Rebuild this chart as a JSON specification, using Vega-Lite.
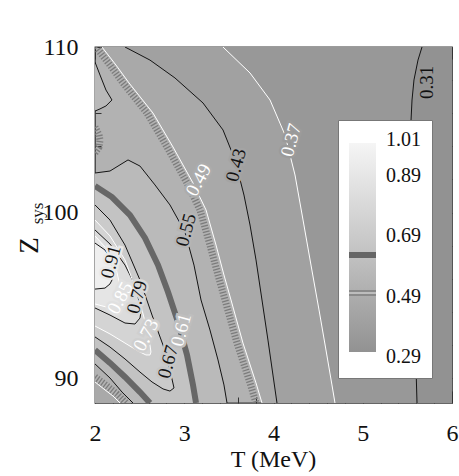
{
  "$schema": "https://vega.github.io/schema/vega-lite/v6.json",
  "width": 357,
  "height": 356,
  "autosize": "none",
  "padding": {"left": 95, "top": 47, "right": 7, "bottom": 73},
  "background": "white",
  "config": {"view": {"stroke": "#3a3a3a", "strokeWidth": 1.3, "fill": "#b2b2b2"}, "font": "Liberation Serif", "legend": {"gradientVerticalMaxLength": 400, "gradientVerticalMinLength": 10}},
  "datasets": {
    "mono": [
      {"k":"r31","c":"0.31","v":0.30,"i":0,"T":5.664,"Z":110},
      {"k":"r31","c":"0.31","v":0.30,"i":1,"T":5.619,"Z":109.21},
      {"k":"r31","c":"0.31","v":0.30,"i":2,"T":5.574,"Z":108.01},
      {"k":"r31","c":"0.31","v":0.30,"i":3,"T":5.552,"Z":106.80},
      {"k":"r31","c":"0.31","v":0.30,"i":4,"T":5.541,"Z":105.59},
      {"k":"r31","c":"0.31","v":0.30,"i":5,"T":5.545,"Z":102.0},
      {"k":"r31","c":"0.31","v":0.30,"i":6,"T":5.560,"Z":97.0},
      {"k":"r31","c":"0.31","v":0.30,"i":7,"T":5.580,"Z":93.0},
      {"k":"r31","c":"0.31","v":0.30,"i":8,"T":5.600,"Z":90.0},
      {"k":"r31","c":"0.31","v":0.30,"i":9,"T":5.608,"Z":88.50},
      {"k":"r37","c":"0.37","v":0.34,"i":0,"T":3.434,"Z":110},
      {"k":"r37","c":"0.37","v":0.34,"i":1,"T":3.737,"Z":108.43},
      {"k":"r37","c":"0.37","v":0.34,"i":2,"T":3.961,"Z":106.80},
      {"k":"r37","c":"0.37","v":0.34,"i":3,"T":4.129,"Z":104.69},
      {"k":"r37","c":"0.37","v":0.34,"i":4,"T":4.241,"Z":102.27},
      {"k":"r37","c":"0.37","v":0.34,"i":5,"T":4.331,"Z":99.55},
      {"k":"r37","c":"0.37","v":0.34,"i":6,"T":4.420,"Z":96.83},
      {"k":"r37","c":"0.37","v":0.34,"i":7,"T":4.510,"Z":94.12},
      {"k":"r37","c":"0.37","v":0.34,"i":8,"T":4.588,"Z":91.70},
      {"k":"r37","c":"0.37","v":0.34,"i":9,"T":4.655,"Z":89.59},
      {"k":"r37","c":"0.37","v":0.34,"i":10,"T":4.689,"Z":88.50},
      {"k":"r43","c":"0.43","v":0.40,"i":0,"T":2.336,"Z":110},
      {"k":"r43","c":"0.43","v":0.40,"i":1,"T":2.616,"Z":109.21},
      {"k":"r43","c":"0.43","v":0.40,"i":2,"T":2.896,"Z":108.13},
      {"k":"r43","c":"0.43","v":0.40,"i":3,"T":3.210,"Z":106.62},
      {"k":"r43","c":"0.43","v":0.40,"i":4,"T":3.434,"Z":104.99},
      {"k":"r43","c":"0.43","v":0.40,"i":5,"T":3.569,"Z":103.18},
      {"k":"r43","c":"0.43","v":0.40,"i":6,"T":3.669,"Z":101.06},
      {"k":"r43","c":"0.43","v":0.40,"i":7,"T":3.737,"Z":99.25},
      {"k":"r43","c":"0.43","v":0.40,"i":8,"T":3.804,"Z":97.14},
      {"k":"r43","c":"0.43","v":0.40,"i":9,"T":3.871,"Z":94.72},
      {"k":"r43","c":"0.43","v":0.40,"i":10,"T":3.938,"Z":92.30},
      {"k":"r43","c":"0.43","v":0.40,"i":11,"T":3.994,"Z":90.19},
      {"k":"r43","c":"0.43","v":0.40,"i":12,"T":4.039,"Z":88.50},
      {"k":"r49","c":"0.49","v":0.46,"i":0,"T":2.078,"Z":110},
      {"k":"r49","c":"0.49","v":0.46,"i":1,"T":2.235,"Z":108.91},
      {"k":"r49","c":"0.49","v":0.46,"i":2,"T":2.381,"Z":107.83},
      {"k":"r49","c":"0.49","v":0.46,"i":3,"T":2.650,"Z":106.01},
      {"k":"r49","c":"0.49","v":0.46,"i":4,"T":2.874,"Z":103.96},
      {"k":"r49","c":"0.49","v":0.46,"i":5,"T":3.098,"Z":101.79},
      {"k":"r49","c":"0.49","v":0.46,"i":6,"T":3.244,"Z":100.16},
      {"k":"r49","c":"0.49","v":0.46,"i":7,"T":3.356,"Z":98.04},
      {"k":"r49","c":"0.49","v":0.46,"i":8,"T":3.445,"Z":96.23},
      {"k":"r49","c":"0.49","v":0.46,"i":9,"T":3.524,"Z":94.72},
      {"k":"r49","c":"0.49","v":0.46,"i":10,"T":3.658,"Z":92.12},
      {"k":"r49","c":"0.49","v":0.46,"i":11,"T":3.804,"Z":89.71},
      {"k":"r49","c":"0.49","v":0.46,"i":12,"T":3.871,"Z":88.50},
      {"k":"h49","c":"0.49","i":0,"T":2.011,"Z":110},
      {"k":"h49","c":"0.49","i":1,"T":2.168,"Z":108.91},
      {"k":"h49","c":"0.49","i":2,"T":2.314,"Z":107.83},
      {"k":"h49","c":"0.49","i":3,"T":2.583,"Z":106.01},
      {"k":"h49","c":"0.49","i":4,"T":2.807,"Z":103.96},
      {"k":"h49","c":"0.49","i":5,"T":3.031,"Z":101.79},
      {"k":"h49","c":"0.49","i":6,"T":3.176,"Z":100.16},
      {"k":"h49","c":"0.49","i":7,"T":3.288,"Z":98.04},
      {"k":"h49","c":"0.49","i":8,"T":3.378,"Z":96.23},
      {"k":"h49","c":"0.49","i":9,"T":3.457,"Z":94.72},
      {"k":"h49","c":"0.49","i":10,"T":3.591,"Z":92.12},
      {"k":"h49","c":"0.49","i":11,"T":3.737,"Z":89.71},
      {"k":"h49","c":"0.49","i":12,"T":3.804,"Z":88.50},
      {"k":"u55","c":"0.55","v":0.58,"i":0,"T":2.000,"Z":102.39},
      {"k":"u55","c":"0.55","v":0.58,"i":1,"T":2.168,"Z":102.51},
      {"k":"u55","c":"0.55","v":0.58,"i":2,"T":2.370,"Z":103.18},
      {"k":"u55","c":"0.55","v":0.58,"i":3,"T":2.504,"Z":102.81},
      {"k":"u55","c":"0.55","v":0.58,"i":4,"T":2.672,"Z":101.67},
      {"k":"u55","c":"0.55","v":0.58,"i":5,"T":2.840,"Z":100.46},
      {"k":"u55","c":"0.55","v":0.58,"i":6,"T":3.008,"Z":98.83},
      {"k":"u55","c":"0.55","v":0.58,"i":7,"T":3.109,"Z":96.83},
      {"k":"u55","c":"0.55","v":0.58,"i":8,"T":3.188,"Z":94.72},
      {"k":"u55","c":"0.55","v":0.58,"i":9,"T":3.288,"Z":92.91},
      {"k":"u55","c":"0.55","v":0.58,"i":10,"T":3.378,"Z":91.10},
      {"k":"u55","c":"0.55","v":0.58,"i":11,"T":3.445,"Z":89.59},
      {"k":"u55","c":"0.55","v":0.58,"i":12,"T":3.479,"Z":88.50},
      {"k":"u61","c":"0.61","v":0.64,"i":0,"T":2.000,"Z":101.61},
      {"k":"u61","c":"0.61","v":0.64,"i":1,"T":2.190,"Z":100.94},
      {"k":"u61","c":"0.61","v":0.64,"i":2,"T":2.392,"Z":99.85},
      {"k":"u61","c":"0.61","v":0.64,"i":3,"T":2.560,"Z":98.47},
      {"k":"u61","c":"0.61","v":0.64,"i":4,"T":2.706,"Z":96.83},
      {"k":"u61","c":"0.61","v":0.64,"i":5,"T":2.818,"Z":95.20},
      {"k":"u61","c":"0.61","v":0.64,"i":6,"T":2.930,"Z":93.39},
      {"k":"u61","c":"0.61","v":0.64,"i":7,"T":3.031,"Z":91.40},
      {"k":"u61","c":"0.61","v":0.64,"i":8,"T":3.098,"Z":89.59},
      {"k":"u61","c":"0.61","v":0.64,"i":9,"T":3.132,"Z":88.50},
      {"k":"l61","c":"0.61","v":0.58,"i":0,"T":2.000,"Z":91.70},
      {"k":"l61","c":"0.61","v":0.58,"i":1,"T":2.168,"Z":90.92},
      {"k":"l61","c":"0.61","v":0.58,"i":2,"T":2.336,"Z":90.07},
      {"k":"l61","c":"0.61","v":0.58,"i":3,"T":2.504,"Z":89.16},
      {"k":"l61","c":"0.61","v":0.58,"i":4,"T":2.616,"Z":88.50},
      {"k":"l55","c":"0.55","v":0.52,"i":0,"T":2.000,"Z":90.86},
      {"k":"l55","c":"0.55","v":0.52,"i":1,"T":2.168,"Z":90.01},
      {"k":"l55","c":"0.55","v":0.52,"i":2,"T":2.303,"Z":89.16},
      {"k":"l55","c":"0.55","v":0.52,"i":3,"T":2.426,"Z":88.50},
      {"k":"l49","c":"0.49","v":0.46,"i":0,"T":2.000,"Z":89.77},
      {"k":"l49","c":"0.49","v":0.46,"i":1,"T":2.112,"Z":89.29},
      {"k":"l49","c":"0.49","v":0.46,"i":2,"T":2.202,"Z":88.92},
      {"k":"l49","c":"0.49","v":0.46,"i":3,"T":2.280,"Z":88.50},
      {"k":"hl49","c":"0.49","i":0,"T":2.000,"Z":90.07},
      {"k":"hl49","c":"0.49","i":1,"T":2.134,"Z":89.53},
      {"k":"hl49","c":"0.49","i":2,"T":2.246,"Z":89.04},
      {"k":"hl49","c":"0.49","i":3,"T":2.347,"Z":88.50},
      {"k":"hd49","c":"0.49","i":0,"T":2.000,"Z":105.17},
      {"k":"hd49","c":"0.49","i":1,"T":2.045,"Z":104.69},
      {"k":"hd49","c":"0.49","i":2,"T":2.056,"Z":104.38},
      {"k":"hd49","c":"0.49","i":3,"T":2.045,"Z":103.96},
      {"k":"hd49","c":"0.49","i":4,"T":2.000,"Z":103.60}
    ],
    "ush": [
      {"k":"b55","c":"0.55","v":0.57,"T":2.000,"Zu":109.09,"Zl":106.13},
      {"k":"b55","c":"0.55","v":0.57,"T":2.056,"Zu":108.31,"Zl":106.26},
      {"k":"b55","c":"0.55","v":0.57,"T":2.123,"Zu":107.40,"Zl":106.44},
      {"k":"b55","c":"0.55","v":0.57,"T":2.190,"Zu":106.80,"Zl":106.80},
      {"k":"u67","c":"0.67","v":0.70,"T":2.000,"Zu":100.46,"Zl":92.49},
      {"k":"u67","c":"0.67","v":0.70,"T":2.168,"Zu":99.55,"Zl":91.88},
      {"k":"u67","c":"0.67","v":0.70,"T":2.336,"Zu":98.04,"Zl":91.16},
      {"k":"u67","c":"0.67","v":0.70,"T":2.504,"Zu":95.93,"Zl":90.37},
      {"k":"u67","c":"0.67","v":0.70,"T":2.639,"Zu":93.81,"Zl":89.77},
      {"k":"u67","c":"0.67","v":0.70,"T":2.762,"Zu":92.00,"Zl":89.35},
      {"k":"u67","c":"0.67","v":0.70,"T":2.840,"Zu":90.49,"Zl":89.22},
      {"k":"u67","c":"0.67","v":0.70,"T":2.885,"Zu":89.41,"Zl":89.41},
      {"k":"u73","c":"0.73","v":0.76,"T":2.000,"Zu":99.55,"Zl":93.15},
      {"k":"u73","c":"0.73","v":0.76,"T":2.168,"Zu":98.59,"Zl":92.67},
      {"k":"u73","c":"0.73","v":0.76,"T":2.336,"Zu":97.14,"Zl":92.12},
      {"k":"u73","c":"0.73","v":0.76,"T":2.482,"Zu":95.02,"Zl":91.64},
      {"k":"u73","c":"0.73","v":0.76,"T":2.571,"Zu":93.21,"Zl":91.40},
      {"k":"u73","c":"0.73","v":0.76,"T":2.616,"Zu":92.00,"Zl":91.40},
      {"k":"u73","c":"0.73","v":0.76,"T":2.627,"Zu":91.58,"Zl":91.58},
      {"k":"u79","c":"0.79","v":0.82,"T":2.000,"Zu":98.95,"Zl":94.24},
      {"k":"u79","c":"0.79","v":0.82,"T":2.168,"Zu":98.10,"Zl":93.81},
      {"k":"u79","c":"0.79","v":0.82,"T":2.336,"Zu":96.83,"Zl":93.33},
      {"k":"u79","c":"0.79","v":0.82,"T":2.448,"Zu":95.63,"Zl":93.27},
      {"k":"u79","c":"0.79","v":0.82,"T":2.504,"Zu":94.42,"Zl":93.63},
      {"k":"u79","c":"0.79","v":0.82,"T":2.515,"Zu":94.00,"Zl":94.00},
      {"k":"u85","c":"0.85","v":0.88,"T":2.000,"Zu":98.59,"Zl":94.48},
      {"k":"u85","c":"0.85","v":0.88,"T":2.123,"Zu":97.86,"Zl":94.30},
      {"k":"u85","c":"0.85","v":0.88,"T":2.235,"Zu":96.65,"Zl":94.24},
      {"k":"u85","c":"0.85","v":0.88,"T":2.291,"Zu":95.32,"Zl":94.48},
      {"k":"u85","c":"0.85","v":0.88,"T":2.314,"Zu":94.72,"Zl":94.72},
      {"k":"u91","c":"0.91","v":0.95,"T":2.000,"Zu":98.16,"Zl":95.38},
      {"k":"u91","c":"0.91","v":0.95,"T":2.112,"Zu":97.74,"Zl":95.44},
      {"k":"u91","c":"0.91","v":0.95,"T":2.168,"Zu":97.26,"Zl":95.69},
      {"k":"u91","c":"0.91","v":0.95,"T":2.202,"Zu":96.65,"Zl":96.05},
      {"k":"u91","c":"0.91","v":0.95,"T":2.213,"Zu":96.35,"Zl":96.35}
    ],
    "labs": [
      {"lab":"0.31","c":0.31,"T":5.720,"Z":107.86},
      {"lab":"0.37","c":0.37,"T":4.196,"Z":104.38},
      {"lab":"0.43","c":0.43,"T":3.580,"Z":102.87},
      {"lab":"0.49","c":0.49,"T":3.160,"Z":101.97},
      {"lab":"0.55","c":0.55,"T":3.020,"Z":98.95},
      {"lab":"0.61","c":0.61,"T":2.965,"Z":92.91},
      {"lab":"0.67","c":0.67,"T":2.818,"Z":90.98},
      {"lab":"0.73","c":0.73,"T":2.571,"Z":92.61},
      {"lab":"0.79","c":0.79,"T":2.471,"Z":94.90},
      {"lab":"0.85","c":0.85,"T":2.280,"Z":94.84},
      {"lab":"0.91","c":0.91,"T":2.179,"Z":97.02}
    ]
  },
  "resolve": {"axis": {"x": "independent", "y": "independent"}},
  "layer": [
    {
      "data": {"name": "mono"},
      "transform": [{"filter": "datum.k === 'r49'"}],
      "mark": {"type": "area", "orient": "horizontal", "clip": true},
      "encoding": {
        "x": {"field": "T", "type": "quantitative", "scale": {"domain": [2, 6], "nice": false, "zero": false},
          "axis": {"orient": "bottom", "values": [2, 3, 4, 5, 6], "format": "d", "tickSize": -12, "tickColor": "#333333", "tickWidth": 1, "domain": false, "grid": false, "labelPadding": 30, "labelFont": "Liberation Serif", "labelFontSize": 24, "labelColor": "#111111", "labelFlush": false, "labelOverlap": false, "title": "T (MeV)", "titleFont": "Liberation Serif", "titleFontSize": 24, "titleFontWeight": "normal", "titleColor": "#111111", "titleX": 178, "titleY": 63, "titleAlign": "center", "titleBaseline": "alphabetic"}},
        "x2": {"datum": 6},
        "y": {"field": "Z", "type": "quantitative", "scale": {"domain": [88.5, 110], "nice": false, "zero": false},
          "axis": {"orient": "left", "values": [90, 100, 110], "format": "d", "tickSize": -12, "tickColor": "#333333", "tickWidth": 1, "domain": false, "grid": false, "labelPadding": 29, "labelFont": "Liberation Serif", "labelFontSize": 24, "labelColor": "#111111", "labelOverlap": false, "title": "Z", "titleFont": "Liberation Serif", "titleFontSize": 27, "titleFontWeight": "normal", "titleColor": "#111111", "titleX": -58, "titleY": 198, "titleAngle": -90, "titleAlign": "center", "titleBaseline": "alphabetic"}},
        "color": {"field": "v", "type": "quantitative", "scale": {"domain": [0.29, 1.01], "range": ["#919191", "#f7f7f7"], "interpolate": "rgb", "zero": false, "nice": false},
          "legend": {"type": "gradient", "orient": "none", "legendX": 243, "legendY": 73, "direction": "vertical", "gradientLength": 217, "gradientThickness": 27, "values": [0.29, 0.49, 0.69, 0.89, 1.01], "format": ".2f", "title": " ", "titleFontSize": 1, "titlePadding": 8, "padding": 11, "fillColor": "#ffffff", "strokeColor": "#777777", "labelFont": "Liberation Serif", "labelFontSize": 20, "labelColor": "#111111", "labelOffset": 10, "gradientStrokeWidth": 0, "labelOverlap": false, "labelBaseline": "middle",
            "encode": {
              "labels": {"update": {"baseline": {"value": "middle"}}},
              "gradient": {"update": {"fill": {"value": {"gradient": "linear", "x1": 0, "y1": 1, "x2": 0, "y2": 0, "stops": [
              {"offset": 0, "color": "#ffffff"}, {"offset": 0.023, "color": "#ffffff"}, {"offset": 0.023, "color": "#929292"},
              {"offset": 0.283, "color": "#adadad"}, {"offset": 0.283, "color": "#8a8a8a"}, {"offset": 0.291, "color": "#8a8a8a"}, {"offset": 0.291, "color": "#bdbdbd"}, {"offset": 0.299, "color": "#bdbdbd"}, {"offset": 0.299, "color": "#8a8a8a"}, {"offset": 0.307, "color": "#8a8a8a"}, {"offset": 0.307, "color": "#b0b0b0"},
              {"offset": 0.455, "color": "#c0c0c0"}, {"offset": 0.455, "color": "#666666"}, {"offset": 0.483, "color": "#666666"}, {"offset": 0.483, "color": "#c3c3c3"},
              {"offset": 0.986, "color": "#f5f5f5"}, {"offset": 0.986, "color": "#ffffff"}, {"offset": 1, "color": "#ffffff"}]}}}}}}}
      }
    },
    {
      "data": {"name": "mono"},
      "transform": [{"filter": "datum.k === 'r43'"}],
      "mark": {"type": "area", "orient": "horizontal", "clip": true},
      "encoding": {
        "x": {"field": "T", "type": "quantitative", "scale": {"domain": [2, 6], "nice": false, "zero": false},
          "axis": {"orient": "top", "values": [2, 3, 4, 5, 6], "tickSize": -12, "tickColor": "#333333", "tickWidth": 1, "domain": false, "grid": false, "labels": false, "title": null}},
        "x2": {"datum": 6},
        "y": {"field": "Z", "type": "quantitative", "scale": {"domain": [88.5, 110], "nice": false, "zero": false},
          "axis": {"orient": "right", "values": [90, 100, 110], "tickSize": -12, "tickColor": "#333333", "tickWidth": 1, "domain": false, "grid": false, "labels": false, "title": null}},
        "color": {"field": "v", "type": "quantitative", "scale": {"domain": [0.29, 1.01], "range": ["#919191", "#f7f7f7"], "interpolate": "rgb", "zero": false, "nice": false}}
      }
    },
    {
      "data": {"name": "mono"},
      "transform": [{"filter": "datum.k === 'r37'"}],
      "mark": {"type": "area", "orient": "horizontal", "clip": true},
      "encoding": {
        "x": {"field": "T", "type": "quantitative", "scale": {"domain": [2, 6], "nice": false, "zero": false},
          "axis": {"orient": "bottom", "values": [2.2, 2.4, 2.6, 2.8, 3.2, 3.4, 3.6, 3.8, 4.2, 4.4, 4.6, 4.8, 5.2, 5.4, 5.6, 5.8], "tickSize": -6, "tickColor": "#333333", "tickWidth": 1, "domain": false, "grid": false, "labels": false, "title": null}},
        "x2": {"datum": 6},
        "y": {"field": "Z", "type": "quantitative", "scale": {"domain": [88.5, 110], "nice": false, "zero": false},
          "axis": {"orient": "left", "values": [92, 94, 96, 98, 102, 104, 106, 108], "tickSize": -6, "tickColor": "#333333", "tickWidth": 1, "domain": false, "grid": false, "labels": false, "title": "sys", "titleFont": "Liberation Serif", "titleFontSize": 17, "titleFontWeight": "normal", "titleColor": "#111111", "titleX": -53, "titleY": 166, "titleAngle": -90, "titleAlign": "center", "titleBaseline": "alphabetic"}},
        "color": {"field": "v", "type": "quantitative", "scale": {"domain": [0.29, 1.01], "range": ["#919191", "#f7f7f7"], "interpolate": "rgb", "zero": false, "nice": false}}
      }
    },
    {
      "data": {"name": "mono"},
      "transform": [{"filter": "datum.k === 'r31'"}],
      "mark": {"type": "area", "orient": "horizontal", "clip": true},
      "encoding": {
        "x": {"field": "T", "type": "quantitative", "scale": {"domain": [2, 6], "nice": false, "zero": false},
          "axis": {"orient": "top", "values": [2.2, 2.4, 2.6, 2.8, 3.2, 3.4, 3.6, 3.8, 4.2, 4.4, 4.6, 4.8, 5.2, 5.4, 5.6, 5.8], "tickSize": -6, "tickColor": "#333333", "tickWidth": 1, "domain": false, "grid": false, "labels": false, "title": null}},
        "x2": {"datum": 6},
        "y": {"field": "Z", "type": "quantitative", "scale": {"domain": [88.5, 110], "nice": false, "zero": false},
          "axis": {"orient": "right", "values": [92, 94, 96, 98, 102, 104, 106, 108], "tickSize": -6, "tickColor": "#333333", "tickWidth": 1, "domain": false, "grid": false, "labels": false, "title": null}},
        "color": {"field": "v", "type": "quantitative", "scale": {"domain": [0.29, 1.01], "range": ["#919191", "#f7f7f7"], "interpolate": "rgb", "zero": false, "nice": false}}
      }
    },
    {
      "data": {"name": "mono"},
      "transform": [{"filter": "datum.k === 'u55'"}],
      "mark": {"type": "area", "clip": true},
      "encoding": {
        "x": {"field": "T", "type": "quantitative", "scale": {"domain": [2, 6], "nice": false, "zero": false}, "axis": null},
        "y": {"field": "Z", "type": "quantitative", "scale": {"domain": [88.5, 110], "nice": false, "zero": false}, "axis": null},
        "y2": {"datum": 88.5},
        "color": {"field": "v", "type": "quantitative", "scale": {"domain": [0.29, 1.01], "range": ["#919191", "#f7f7f7"], "interpolate": "rgb", "zero": false, "nice": false}}
      }
    },
    {
      "data": {"name": "mono"},
      "transform": [{"filter": "datum.k === 'u61'"}],
      "mark": {"type": "area", "clip": true},
      "encoding": {
        "x": {"field": "T", "type": "quantitative", "scale": {"domain": [2, 6], "nice": false, "zero": false}, "axis": null},
        "y": {"field": "Z", "type": "quantitative", "scale": {"domain": [88.5, 110], "nice": false, "zero": false}, "axis": null},
        "y2": {"datum": 88.5},
        "color": {"field": "v", "type": "quantitative", "scale": {"domain": [0.29, 1.01], "range": ["#919191", "#f7f7f7"], "interpolate": "rgb", "zero": false, "nice": false}}
      }
    },
    {
      "data": {"name": "mono"},
      "transform": [{"filter": "datum.k === 'l61'"}],
      "mark": {"type": "area", "clip": true},
      "encoding": {
        "x": {"field": "T", "type": "quantitative", "scale": {"domain": [2, 6], "nice": false, "zero": false}, "axis": null},
        "y": {"field": "Z", "type": "quantitative", "scale": {"domain": [88.5, 110], "nice": false, "zero": false}, "axis": null},
        "y2": {"datum": 88.5},
        "color": {"field": "v", "type": "quantitative", "scale": {"domain": [0.29, 1.01], "range": ["#919191", "#f7f7f7"], "interpolate": "rgb", "zero": false, "nice": false}}
      }
    },
    {
      "data": {"name": "mono"},
      "transform": [{"filter": "datum.k === 'l55'"}],
      "mark": {"type": "area", "clip": true},
      "encoding": {
        "x": {"field": "T", "type": "quantitative", "scale": {"domain": [2, 6], "nice": false, "zero": false}, "axis": null},
        "y": {"field": "Z", "type": "quantitative", "scale": {"domain": [88.5, 110], "nice": false, "zero": false}, "axis": null},
        "y2": {"datum": 88.5},
        "color": {"field": "v", "type": "quantitative", "scale": {"domain": [0.29, 1.01], "range": ["#919191", "#f7f7f7"], "interpolate": "rgb", "zero": false, "nice": false}}
      }
    },
    {
      "data": {"name": "mono"},
      "transform": [{"filter": "datum.k === 'l49'"}],
      "mark": {"type": "area", "clip": true},
      "encoding": {
        "x": {"field": "T", "type": "quantitative", "scale": {"domain": [2, 6], "nice": false, "zero": false}, "axis": null},
        "y": {"field": "Z", "type": "quantitative", "scale": {"domain": [88.5, 110], "nice": false, "zero": false}, "axis": null},
        "y2": {"datum": 88.5},
        "color": {"field": "v", "type": "quantitative", "scale": {"domain": [0.29, 1.01], "range": ["#919191", "#f7f7f7"], "interpolate": "rgb", "zero": false, "nice": false}}
      }
    },
    {
      "data": {"name": "ush"},
      "transform": [{"filter": "datum.k === 'b55'"}],
      "mark": {"type": "area", "clip": true},
      "encoding": {
        "x": {"field": "T", "type": "quantitative", "scale": {"domain": [2, 6], "nice": false, "zero": false}, "axis": null},
        "y": {"field": "Zu", "type": "quantitative", "scale": {"domain": [88.5, 110], "nice": false, "zero": false}, "axis": null},
        "y2": {"field": "Zl"},
        "color": {"field": "v", "type": "quantitative", "scale": {"domain": [0.29, 1.01], "range": ["#919191", "#f7f7f7"], "interpolate": "rgb", "zero": false, "nice": false}}
      }
    },
    {
      "data": {"name": "ush"},
      "transform": [{"filter": "datum.k === 'u67'"}],
      "mark": {"type": "area", "clip": true},
      "encoding": {
        "x": {"field": "T", "type": "quantitative", "scale": {"domain": [2, 6], "nice": false, "zero": false}, "axis": null},
        "y": {"field": "Zu", "type": "quantitative", "scale": {"domain": [88.5, 110], "nice": false, "zero": false}, "axis": null},
        "y2": {"field": "Zl"},
        "color": {"field": "v", "type": "quantitative", "scale": {"domain": [0.29, 1.01], "range": ["#919191", "#f7f7f7"], "interpolate": "rgb", "zero": false, "nice": false}}
      }
    },
    {
      "data": {"name": "ush"},
      "transform": [{"filter": "datum.k === 'u73'"}],
      "mark": {"type": "area", "clip": true},
      "encoding": {
        "x": {"field": "T", "type": "quantitative", "scale": {"domain": [2, 6], "nice": false, "zero": false}, "axis": null},
        "y": {"field": "Zu", "type": "quantitative", "scale": {"domain": [88.5, 110], "nice": false, "zero": false}, "axis": null},
        "y2": {"field": "Zl"},
        "color": {"field": "v", "type": "quantitative", "scale": {"domain": [0.29, 1.01], "range": ["#919191", "#f7f7f7"], "interpolate": "rgb", "zero": false, "nice": false}}
      }
    },
    {
      "data": {"name": "ush"},
      "transform": [{"filter": "datum.k === 'u79'"}],
      "mark": {"type": "area", "clip": true},
      "encoding": {
        "x": {"field": "T", "type": "quantitative", "scale": {"domain": [2, 6], "nice": false, "zero": false}, "axis": null},
        "y": {"field": "Zu", "type": "quantitative", "scale": {"domain": [88.5, 110], "nice": false, "zero": false}, "axis": null},
        "y2": {"field": "Zl"},
        "color": {"field": "v", "type": "quantitative", "scale": {"domain": [0.29, 1.01], "range": ["#919191", "#f7f7f7"], "interpolate": "rgb", "zero": false, "nice": false}}
      }
    },
    {
      "data": {"name": "ush"},
      "transform": [{"filter": "datum.k === 'u85'"}],
      "mark": {"type": "area", "clip": true},
      "encoding": {
        "x": {"field": "T", "type": "quantitative", "scale": {"domain": [2, 6], "nice": false, "zero": false}, "axis": null},
        "y": {"field": "Zu", "type": "quantitative", "scale": {"domain": [88.5, 110], "nice": false, "zero": false}, "axis": null},
        "y2": {"field": "Zl"},
        "color": {"field": "v", "type": "quantitative", "scale": {"domain": [0.29, 1.01], "range": ["#919191", "#f7f7f7"], "interpolate": "rgb", "zero": false, "nice": false}}
      }
    },
    {
      "data": {"name": "ush"},
      "transform": [{"filter": "datum.k === 'u91'"}],
      "mark": {"type": "area", "clip": true},
      "encoding": {
        "x": {"field": "T", "type": "quantitative", "scale": {"domain": [2, 6], "nice": false, "zero": false}, "axis": null},
        "y": {"field": "Zu", "type": "quantitative", "scale": {"domain": [88.5, 110], "nice": false, "zero": false}, "axis": null},
        "y2": {"field": "Zl"},
        "color": {"field": "v", "type": "quantitative", "scale": {"domain": [0.29, 1.01], "range": ["#919191", "#f7f7f7"], "interpolate": "rgb", "zero": false, "nice": false}}
      }
    },
    {
      "data": {"name": "mono"},
      "transform": [{"filter": "datum.k[0] === 'h'"}],
      "mark": {"type": "line", "stroke": "#7c7c7c", "strokeWidth": 7, "strokeDash": [1.3, 1.7], "clip": true},
      "encoding": {
        "x": {"field": "T", "type": "quantitative", "scale": {"domain": [2, 6], "nice": false, "zero": false}, "axis": null},
        "y": {"field": "Z", "type": "quantitative", "scale": {"domain": [88.5, 110], "nice": false, "zero": false}, "axis": null},
        "detail": {"field": "k"},
        "order": {"field": "i", "type": "quantitative"}
      }
    },
    {
      "data": {"name": "mono"},
      "transform": [{"filter": "datum.k === 'u61' || datum.k === 'l61'"}],
      "mark": {"type": "line", "stroke": "#676767", "strokeWidth": 6, "clip": true},
      "encoding": {
        "x": {"field": "T", "type": "quantitative", "scale": {"domain": [2, 6], "nice": false, "zero": false}, "axis": null},
        "y": {"field": "Z", "type": "quantitative", "scale": {"domain": [88.5, 110], "nice": false, "zero": false}, "axis": null},
        "detail": {"field": "k"},
        "order": {"field": "i", "type": "quantitative"}
      }
    },
    {
      "data": {"name": "mono"},
      "transform": [{"filter": "datum.k[0] !== 'h' && indexof(['0.31','0.43','0.55','0.67','0.79','0.91'], datum.c) >= 0"}],
      "mark": {"type": "line", "stroke": "#141414", "strokeWidth": 1, "clip": true},
      "encoding": {
        "x": {"field": "T", "type": "quantitative", "scale": {"domain": [2, 6], "nice": false, "zero": false}, "axis": null},
        "y": {"field": "Z", "type": "quantitative", "scale": {"domain": [88.5, 110], "nice": false, "zero": false}, "axis": null},
        "detail": {"field": "k"},
        "order": {"field": "i", "type": "quantitative"}
      }
    },
    {
      "data": {"name": "mono"},
      "transform": [{"filter": "datum.k[0] !== 'h' && indexof(['0.37','0.49','0.73','0.85'], datum.c) >= 0"}],
      "mark": {"type": "line", "stroke": "#ffffff", "strokeWidth": 1, "clip": true},
      "encoding": {
        "x": {"field": "T", "type": "quantitative", "scale": {"domain": [2, 6], "nice": false, "zero": false}, "axis": null},
        "y": {"field": "Z", "type": "quantitative", "scale": {"domain": [88.5, 110], "nice": false, "zero": false}, "axis": null},
        "detail": {"field": "k"},
        "order": {"field": "i", "type": "quantitative"}
      }
    },
    {
      "data": {"name": "ush"},
      "transform": [{"filter": "indexof(['0.55','0.67','0.79','0.91'], datum.c) >= 0"}, {"fold": ["Zu", "Zl"], "as": ["side", "Zv"]}],
      "mark": {"type": "line", "stroke": "#141414", "strokeWidth": 1, "clip": true},
      "encoding": {
        "x": {"field": "T", "type": "quantitative", "scale": {"domain": [2, 6], "nice": false, "zero": false}, "axis": null},
        "y": {"field": "Zv", "type": "quantitative", "scale": {"domain": [88.5, 110], "nice": false, "zero": false}, "axis": null},
        "detail": [{"field": "k"}, {"field": "side"}]
      }
    },
    {
      "data": {"name": "ush"},
      "transform": [{"filter": "indexof(['0.73','0.85'], datum.c) >= 0"}, {"fold": ["Zu", "Zl"], "as": ["side", "Zv"]}],
      "mark": {"type": "line", "stroke": "#ffffff", "strokeWidth": 1, "clip": true},
      "encoding": {
        "x": {"field": "T", "type": "quantitative", "scale": {"domain": [2, 6], "nice": false, "zero": false}, "axis": null},
        "y": {"field": "Zv", "type": "quantitative", "scale": {"domain": [88.5, 110], "nice": false, "zero": false}, "axis": null},
        "detail": [{"field": "k"}, {"field": "side"}]
      }
    },
    {
      "data": {"name": "labs"},
      "mark": {"type": "text", "font": "Liberation Serif", "fontSize": 19, "align": "center", "baseline": "middle", "strokeWidth": 5, "fillOpacity": 0},
      "encoding": {
        "x": {"field": "T", "type": "quantitative", "scale": {"domain": [2, 6], "nice": false, "zero": false}, "axis": null},
        "y": {"field": "Z", "type": "quantitative", "scale": {"domain": [88.5, 110], "nice": false, "zero": false}, "axis": null},
        "text": {"field": "lab"},
        "angle": {"condition": [{"test": "datum.lab === '0.31'", "value": 270}, {"test": "indexof(['0.49','0.73','0.85'], datum.lab) >= 0", "value": 298}], "value": 285},
        "stroke": {"field": "c", "type": "quantitative", "scale": {"domain": [0.285, 1.015], "range": ["#8f8f8f", "#f8f8f8"], "interpolate": "rgb", "zero": false, "nice": false}, "legend": null}
      }
    },
    {
      "data": {"name": "labs"},
      "mark": {"type": "text", "font": "Liberation Serif", "fontSize": 19, "align": "center", "baseline": "middle"},
      "encoding": {
        "x": {"field": "T", "type": "quantitative", "scale": {"domain": [2, 6], "nice": false, "zero": false}, "axis": null},
        "y": {"field": "Z", "type": "quantitative", "scale": {"domain": [88.5, 110], "nice": false, "zero": false}, "axis": null},
        "text": {"field": "lab"},
        "angle": {"condition": [{"test": "datum.lab === '0.31'", "value": 270}, {"test": "indexof(['0.49','0.73','0.85'], datum.lab) >= 0", "value": 298}], "value": 285},
        "color": {"condition": {"test": "indexof(['0.37','0.49','0.61','0.73','0.85'], datum.lab) >= 0", "value": "#ffffff"}, "value": "#111111"}
      }
    }
  ]
}
